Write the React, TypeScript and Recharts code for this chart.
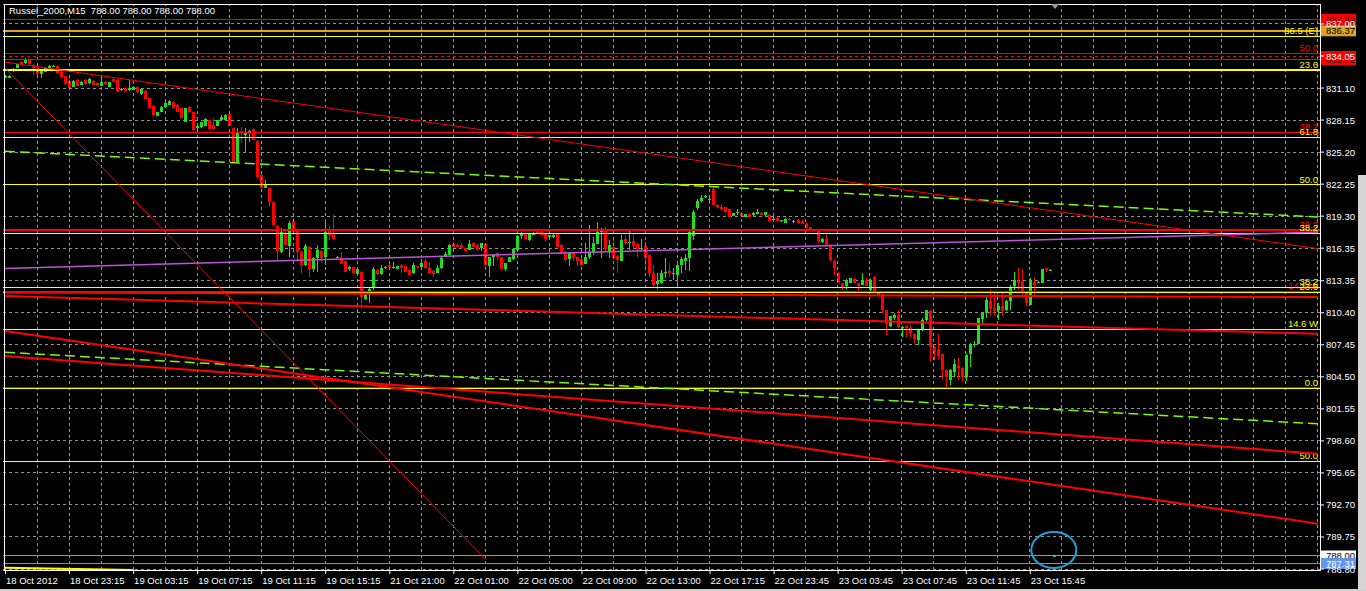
// Russel_2000 M15 — MT4-style candlestick chart with fib levels and trend lines.

import { ComposedChart, Bar, XAxis, YAxis, CartesianGrid, ReferenceLine, ReferenceDot } from "recharts";

type Ohlc = [number, number, number, number]; // open, high, low, close

const oct18: Ohlc[] = [
  [832.06, 832.30, 832.00, 832.25], [832.06, 832.28, 832.02, 832.22], [832.70, 832.90, 832.60, 832.85],
  [832.98, 833.35, 832.95, 833.29], [833.54, 833.60, 833.25, 833.29], [833.38, 833.90, 833.35, 833.78],
  [833.69, 833.75, 833.25, 833.29], [833.23, 833.30, 832.31, 832.92], [832.92, 833.00, 832.20, 832.37],
  [832.37, 832.80, 832.06, 832.77], [832.62, 833.00, 832.55, 832.98], [832.92, 833.20, 832.90, 833.14],
  [833.10, 833.23, 833.08, 833.15], [833.14, 833.20, 832.40, 832.46], [832.62, 832.65, 832.10, 832.15],
  [832.22, 832.25, 831.40, 831.45], [831.79, 831.85, 831.10, 831.14], [831.23, 831.85, 831.20, 831.79],
  [831.85, 831.90, 831.30, 831.33],
];

const oct19: Ohlc[] = [
  [831.39, 831.75, 831.35, 831.69], [831.85, 831.90, 831.40, 831.45], [831.54, 832.00, 831.50, 831.94],
  [831.76, 831.80, 831.35, 831.39], [831.60, 831.65, 831.30, 831.33], [831.33, 832.06, 831.30, 831.63],
  [831.69, 831.75, 831.40, 831.45], [831.23, 831.70, 831.20, 831.63], [831.94, 832.00, 831.65, 831.69],
  [831.85, 831.90, 830.70, 830.77], [830.90, 831.10, 830.85, 831.05], [831.08, 831.10, 830.80, 830.83],
  [830.90, 831.85, 830.85, 831.08], [830.93, 831.30, 830.90, 831.23], [831.23, 831.30, 830.65, 830.71],
  [830.59, 831.10, 830.50, 831.02], [830.83, 830.90, 830.00, 830.10], [830.16, 830.20, 829.20, 829.30],
  [829.45, 829.50, 828.55, 828.62], [828.56, 828.90, 828.50, 828.87], [828.87, 829.45, 828.85, 829.39],
  [829.39, 829.80, 829.35, 829.76], [829.55, 830.00, 829.50, 829.94], [829.85, 829.90, 829.20, 829.24],
  [829.55, 829.60, 828.90, 828.93], [829.24, 829.30, 828.30, 828.38], [828.01, 829.30, 827.95, 829.24],
  [829.39, 829.45, 828.80, 828.87], [828.87, 828.90, 827.20, 827.24], [827.46, 827.70, 827.15, 827.64],
  [827.49, 828.00, 827.45, 827.95], [827.64, 828.30, 827.60, 828.26], [828.16, 828.20, 827.30, 827.33],
  [827.70, 828.38, 827.30, 827.33], [827.64, 828.20, 827.60, 828.16], [828.16, 828.60, 828.10, 828.47],
  [828.16, 828.70, 828.10, 828.62], [828.72, 828.80, 827.60, 827.64], [827.40, 827.45, 824.20, 824.26],
  [824.26, 827.40, 824.20, 826.94], [827.15, 827.55, 826.02, 826.94], [826.78, 827.46, 825.25, 827.09],
  [827.10, 827.24, 826.11, 827.15], [827.33, 827.40, 826.30, 826.32], [826.23, 826.30, 822.90, 822.94],
  [823.10, 823.15, 821.87, 821.93], [821.87, 822.64, 821.85, 822.18], [821.87, 821.90, 820.18, 820.64],
  [820.64, 820.70, 818.45, 818.50], [818.40, 818.45, 815.27, 816.13], [816.04, 818.19, 815.95, 817.88],
  [817.73, 818.10, 816.60, 816.65], [816.56, 818.89, 815.58, 818.65], [818.80, 819.11, 817.58, 817.88],
  [818.03, 818.10, 815.12, 816.04], [816.04, 816.10, 814.04, 814.81], [814.81, 816.75, 814.75, 816.56],
  [816.50, 816.55, 813.68, 814.41], [814.41, 815.50, 814.20, 815.43], [815.43, 816.65, 814.20, 816.19],
  [816.13, 816.20, 814.97, 815.43], [815.58, 818.96, 814.81, 817.88], [818.03, 818.40, 817.11, 817.57],
  [817.73, 819.42, 817.10, 817.18], [815.50, 815.60, 815.45, 815.55], [815.43, 816.04, 814.85, 814.90],
  [815.18, 815.20, 814.15, 814.20], [814.41, 814.72, 814.29, 814.60], [814.60, 814.65, 814.05, 814.11],
  [813.98, 814.45, 813.95, 814.41], [814.20, 814.25, 810.91, 811.90], [811.68, 812.10, 811.60, 812.05],
  [812.45, 812.75, 811.34, 812.60], [812.66, 814.60, 812.51, 814.41], [814.35, 814.40, 813.90, 813.95],
  [813.95, 814.81, 813.90, 814.50], [814.50, 814.70, 814.45, 814.66],
];

const oct21: Ohlc[] = [
  [814.81, 814.85, 814.55, 814.60], [814.58, 815.12, 814.41, 814.62], [814.44, 814.75, 814.40, 814.72],
  [814.81, 814.85, 814.11, 814.57], [814.72, 814.75, 814.15, 814.20], [814.35, 814.40, 813.85, 813.89],
  [814.04, 814.97, 814.00, 814.81], [814.72, 814.75, 814.55, 814.60], [814.60, 815.33, 814.55, 814.97],
  [815.18, 815.33, 814.41, 814.50], [814.57, 815.12, 814.00, 814.04], [814.26, 814.30, 813.74, 813.95],
];

const oct22: Ohlc[] = [
  [814.11, 814.81, 814.05, 814.57], [814.50, 815.58, 814.45, 815.43], [815.52, 816.04, 815.50, 815.82],
  [815.73, 816.75, 815.70, 816.65], [816.75, 816.96, 816.45, 816.50], [816.65, 816.70, 816.45, 816.50],
  [816.65, 816.87, 816.30, 816.35], [816.35, 816.40, 816.05, 816.10], [816.19, 817.11, 816.15, 816.75],
  [816.87, 816.96, 816.45, 816.50], [816.65, 816.70, 816.10, 816.25], [816.35, 816.85, 816.13, 816.81],
  [816.75, 816.80, 814.75, 814.81], [814.72, 815.55, 813.68, 815.52], [815.52, 815.80, 814.72, 815.73],
  [815.89, 816.04, 815.27, 815.52], [815.52, 815.55, 814.35, 814.41], [814.41, 815.00, 814.29, 814.97],
  [815.12, 815.55, 815.10, 815.52], [815.36, 816.30, 815.30, 816.25], [816.19, 817.55, 816.15, 817.48],
  [817.48, 817.88, 817.18, 817.67], [817.67, 817.70, 817.15, 817.18], [817.11, 817.70, 817.05, 817.64],
  [817.57, 817.88, 817.55, 817.73], [817.88, 817.92, 817.70, 817.73], [817.88, 817.92, 817.55, 817.57],
  [817.64, 817.70, 816.96, 817.18], [817.36, 817.60, 817.33, 817.57], [817.36, 817.79, 817.33, 817.57],
  [817.67, 817.70, 816.45, 816.50], [816.65, 816.70, 815.73, 815.95], [816.04, 816.10, 815.12, 815.27],
  [815.36, 816.00, 814.72, 815.95], [815.95, 816.00, 815.18, 815.43], [815.52, 815.55, 814.72, 815.18],
  [815.36, 815.40, 814.75, 814.81], [814.90, 816.81, 814.85, 815.58], [815.58, 818.50, 815.33, 815.89],
  [816.04, 817.42, 815.73, 816.81], [816.75, 818.80, 816.70, 817.88], [817.82, 818.19, 815.43, 817.97],
  [818.03, 818.28, 816.04, 816.25], [816.13, 817.11, 815.43, 816.65], [816.50, 817.27, 815.27, 815.43],
  [815.64, 815.70, 814.11, 815.27], [815.21, 817.57, 815.15, 817.11], [817.18, 817.57, 816.75, 816.81],
  [816.81, 817.97, 816.19, 816.96], [817.05, 817.67, 816.13, 816.56], [816.75, 816.80, 815.58, 816.25],
  [816.33, 817.18, 816.13, 816.38], [816.56, 816.96, 814.66, 815.52], [815.73, 815.80, 813.65, 814.04],
  [814.04, 814.81, 812.75, 812.97], [813.06, 814.04, 812.57, 813.37], [813.12, 814.35, 813.06, 814.04],
  [814.04, 815.43, 813.58, 814.20], [814.29, 814.97, 813.74, 814.04], [814.02, 814.51, 813.43, 814.06],
  [813.89, 814.97, 812.82, 814.81], [814.81, 815.52, 814.11, 815.33], [815.18, 815.82, 814.35, 815.43],
  [815.49, 818.03, 814.29, 817.88], [817.48, 819.88, 817.11, 819.72], [820.03, 820.86, 819.88, 820.71],
  [820.74, 821.26, 820.64, 820.95], [821.08, 821.26, 820.95, 821.13], [820.84, 821.11, 820.49, 820.89],
  [821.78, 821.85, 820.30, 820.34], [820.34, 820.40, 820.03, 820.18], [820.18, 820.43, 819.82, 819.94],
  [820.12, 820.15, 819.63, 819.72], [819.97, 820.00, 819.20, 819.26], [819.36, 819.60, 819.33, 819.57],
  [819.57, 819.94, 819.42, 819.72], [819.63, 819.66, 819.28, 819.32], [819.26, 819.50, 819.23, 819.48],
  [819.51, 819.55, 819.23, 819.26], [819.39, 819.66, 819.36, 819.57], [819.51, 819.94, 819.48, 819.69],
  [819.63, 819.66, 819.42, 819.45], [819.39, 819.70, 819.36, 819.66], [819.45, 819.50, 818.85, 818.89],
  [818.99, 819.57, 818.74, 819.04],
];

const oct23: Ohlc[] = [
  [819.17, 819.20, 818.85, 818.89], [818.85, 818.95, 818.80, 818.90], [818.71, 819.10, 818.68, 819.05],
  [819.02, 819.11, 818.87, 818.90], [818.74, 818.90, 818.70, 818.87], [818.96, 819.00, 818.60, 818.65],
  [818.87, 818.90, 818.55, 818.59], [818.56, 818.80, 818.10, 818.34], [818.28, 818.30, 818.00, 818.04],
  [817.98, 818.15, 817.95, 818.10], [818.04, 818.08, 816.87, 817.05], [816.96, 817.27, 816.87, 817.18],
  [817.21, 817.58, 816.60, 816.66], [816.66, 816.70, 815.12, 815.27], [815.21, 815.25, 813.89, 814.51],
  [814.11, 814.15, 813.10, 813.13], [813.13, 813.17, 812.51, 812.82], [812.88, 813.47, 812.57, 813.43],
  [813.13, 813.63, 813.10, 813.59], [813.52, 813.56, 813.10, 813.13], [813.13, 813.17, 812.45, 812.88],
  [812.97, 814.05, 812.93, 813.34], [813.43, 813.59, 812.84, 812.88], [812.51, 813.47, 812.36, 813.43],
  [813.68, 813.80, 812.32, 812.36], [812.36, 812.40, 812.00, 812.05], [812.11, 812.15, 810.36, 810.67],
  [810.67, 810.70, 808.37, 809.38], [809.20, 810.15, 809.13, 810.12], [809.90, 810.36, 809.69, 810.21],
  [810.21, 810.67, 808.98, 809.13], [808.98, 809.17, 808.21, 809.13], [809.20, 809.24, 808.15, 808.98],
  [809.04, 809.29, 808.15, 808.52], [808.46, 808.50, 807.54, 807.97], [807.85, 808.87, 807.45, 808.83],
  [808.77, 809.90, 808.73, 809.75], [809.69, 810.70, 809.65, 810.67], [810.58, 810.62, 805.91, 807.29],
  [807.29, 807.33, 806.06, 806.83], [806.99, 808.46, 806.06, 806.43], [806.62, 806.66, 804.28, 805.14],
  [805.14, 805.18, 803.61, 804.47], [804.22, 805.18, 803.76, 805.14], [804.99, 806.13, 804.53, 805.70],
  [805.54, 806.22, 804.22, 805.30], [805.36, 805.40, 804.07, 804.47], [804.47, 806.56, 804.13, 806.52],
  [806.62, 807.66, 805.45, 807.54], [807.49, 807.84, 807.29, 807.54], [807.54, 809.95, 807.50, 809.90],
  [809.81, 810.51, 809.29, 810.36], [810.36, 811.90, 809.90, 811.59], [811.44, 812.51, 810.06, 810.73],
  [810.82, 812.20, 810.21, 810.61], [810.67, 811.28, 809.75, 810.98], [811.04, 812.36, 810.06, 810.61],
  [810.67, 811.59, 810.52, 811.44], [811.53, 812.97, 810.67, 812.76], [812.88, 814.20, 812.51, 813.43],
  [813.34, 814.51, 812.51, 813.13], [813.34, 814.41, 812.05, 812.36], [812.36, 812.40, 811.04, 811.28],
  [811.13, 813.59, 811.10, 813.34], [813.28, 813.68, 812.05, 812.97], [813.13, 813.37, 813.10, 813.28],
  [813.13, 814.45, 813.10, 814.41], [814.51, 814.55, 814.20, 814.35], [814.33, 814.40, 814.30, 814.37],
  [788.00, 788.00, 788.00, 788.00],
];

const timeLabels = [
  "18 Oct 2012", "18 Oct 23:15", "19 Oct 03:15", "19 Oct 07:15", "19 Oct 11:15", "19 Oct 15:15",
  "21 Oct 21:00", "22 Oct 01:00", "22 Oct 05:00", "22 Oct 09:00", "22 Oct 13:00", "22 Oct 17:15",
  "22 Oct 23:45", "23 Oct 03:45", "23 Oct 07:45", "23 Oct 11:45", "23 Oct 15:45",
];

const priceTicks = [
  786.8, 789.75, 792.7, 795.65, 798.6, 801.55, 804.5, 807.45, 810.4,
  813.35, 816.35, 819.3, 822.25, 825.2, 828.15, 831.1, 834.05, 837.0,
];

// horizontal objects (fibo levels, lines)
const redLevels = [
  { price: 837.42, text: "" },
  { price: 834.32, text: "50.0" },
  { price: 833.72, text: "" },
  { price: 827.05, text: "38.2" },
  { price: 812.4, text: "14.5 W" },
  { price: 803.53, text: "" },
];
const redDashedLevels = [{ price: 834.0, text: "" }];
const redThickLevels = [{ price: 818.02, text: "38.2" }];
const yellowLevels = [
  { price: 835.89, text: "86.5 (E)" },
  { price: 826.59, text: "61.8" },
  { price: 822.17, text: "50.0" },
  { price: 817.74, text: "38.2" },
  { price: 812.77, text: "38.2" },
  { price: 812.3, text: "23.6" },
  { price: 808.88, text: "14.6 W" },
  { price: 803.44, text: "0.0" },
  { price: 796.72, text: "50.0" },
];
const yellowThickLevels = [{ price: 832.76, text: "23.6" }];
const goldLevels = [{ price: 836.37, text: "" }];

// price tags on the right scale
const priceTags = [
  { price: 837.42, text: "837.42", kind: "red" },
  { price: 836.37, text: "836.37", kind: "gold" },
  { price: 834.0, text: "834.00", kind: "red" },
  { price: 833.72, text: "833.72", kind: "red" },
  { price: 788.0, text: "788.00", kind: "bid" },
  { price: 787.31, text: "787.31", kind: "ask" },
];

// trend lines: bar index / price at both ends
const redThinTrends = [
  { x1: 0, p1: 833.49, x2: 328, p2: 816.31 },
  { x1: 0, p1: 832.94, x2: 120, p2: 787.72 },
];
const redThickTrends = [
  { x1: 0, p1: 812.27, x2: 328, p2: 811.85 },
  { x1: 0, p1: 811.94, x2: 328, p2: 808.46 },
  { x1: 0, p1: 808.72, x2: 328, p2: 790.98 },
  { x1: 0, p1: 806.42, x2: 328, p2: 797.42 },
];
const greenDashedTrends = [
  { x1: 0, p1: 825.27, x2: 328, p2: 819.23 },
  { x1: 0, p1: 806.76, x2: 328, p2: 800.17 },
];
const purpleTrends = [{ x1: 0, p1: 814.48, x2: 328, p2: 817.83 }];
const yellowTrends = [{ x1: 0, p1: 786.92, x2: 32, p2: 786.71 }];

const circleMark = { x: 262, price: 788.55 };

const SLOTS = 329;
const Y_DOMAIN: [number, number] = [786.71, 838.84];
const FONT = "'Liberation Sans', Arial, sans-serif";
const RED = "#ff0000";
const GREEN = "#1fe01f";
const YELLOW = "#ffff00";
const GRID = "#8b939b";

const candles = [...oct18, ...oct19, ...oct21, ...oct22, ...oct23];
const rows = Array.from({ length: SLOTS }, (_, i) => {
  const k = candles[i];
  return k ? { i, range: [k[2], k[1]], o: k[0], h: k[1], l: k[2], c: k[3] } : { i, range: null };
});
const gridBars = Array.from({ length: Math.floor((SLOTS - 1) / 8) }, (_, k) => (k + 1) * 8);

function Candle(props: any) {
  const { x, y, width, height, payload } = props;
  if (!payload || payload.range == null) return null;
  const { o, h, l, c } = payload;
  const cx = Math.round(x + width / 2);
  const top = Math.min(y, y + height);
  const span = Math.abs(height);
  const toY = (v: number) => (h === l ? top : top + ((h - v) / (h - l)) * span);
  const color = c >= o ? GREEN : RED;
  const yo = toY(o);
  const yc = toY(c);
  const bodyTop = Math.min(yo, yc);
  const bodyH = Math.max(1, Math.abs(yo - yc));
  return (
    <g shapeRendering="crispEdges">
      <line x1={cx + 0.5} x2={cx + 0.5} y1={top} y2={top + Math.max(span, 1)} stroke={color} />
      <rect x={cx - 1} y={bodyTop} width={3} height={bodyH} fill={color} />
    </g>
  );
}

function levelLabel(text: string, color: string) {
  return (props: any) => {
    const vb = props.viewBox;
    if (!vb || !text) return null;
    return (
      <text x={vb.x + vb.width - 2} y={vb.y - 2} textAnchor="end" fill={color} fontSize={9.5} fontFamily={FONT}>
        {text}
      </text>
    );
  };
}

const tagColors: Record<string, [string, string]> = {
  red: [RED, "#000"],
  gold: ["#daa520", "#000"],
  bid: ["#ffffff", "#000"],
  ask: ["#6495ed", "#fff"],
};

function tagLabel(text: string, kind: string) {
  return (props: any) => {
    const vb = props.viewBox;
    if (!vb) return null;
    const [bg, fg] = tagColors[kind];
    const x0 = vb.x + vb.width + 1;
    return (
      <g>
        <rect x={x0} y={vb.y - 5.5} width={35} height={11} fill={bg} />
        <text x={x0 + 5} y={vb.y + 3.5} fill={fg} fontSize={9.5} fontFamily={FONT}>
          {text}
        </text>
      </g>
    );
  };
}

function PriceTick(props: any) {
  const { x, y, payload } = props;
  return (
    <text x={x} y={y + 3.5} fill="#fff" fontSize={9.5} fontFamily={FONT}>
      {Number(payload.value).toFixed(2)}
    </text>
  );
}

function TimeTick(props: any) {
  const { x, y, payload } = props;
  const label = timeLabels[payload.value / 16];
  if (!label) return null;
  return (
    <g>
      <line x1={x + 0.5} x2={x + 0.5} y1={y - 4} y2={y} stroke="#fff" />
      <text x={x + 1} y={y + 10} fill="#fff" fontSize={9.5} fontFamily={FONT}>
        {label}
      </text>
    </g>
  );
}

function hLines(levels: { price: number; text: string }[], color: string, width: number, dash?: string) {
  return levels.map((lv, k) => (
    <ReferenceLine
      key={`${color}-${width}-${k}`}
      y={lv.price}
      stroke={color}
      strokeWidth={width}
      strokeDasharray={dash}
      shapeRendering="crispEdges"
      label={levelLabel(lv.text, color)}
    />
  ));
}

function trendLines(list: { x1: number; p1: number; x2: number; p2: number }[], color: string, width: number, dash?: string) {
  return list.map((t, k) => (
    <ReferenceLine
      key={`t-${color}-${width}-${k}`}
      segment={[{ x: t.x1, y: t.p1 }, { x: t.x2, y: t.p2 }]}
      stroke={color}
      strokeWidth={width}
      strokeDasharray={dash}
      ifOverflow="visible"
    />
  ));
}

export default function App() {
  return (
    <div style={{ position: "absolute", left: 0, top: 0, width: 1366, height: 591, background: "#000", overflow: "hidden" }}>
      {/* price tags sit under the scale labels */}
      <div style={{ position: "absolute", left: 0, top: 0 }}>
        <ComposedChart width={1366} height={591} data={rows} margin={{ top: 4, right: 46, bottom: 21, left: 3 }}>
          <XAxis dataKey="i" hide />
          <YAxis hide domain={Y_DOMAIN} type="number" allowDataOverflow />
          {priceTags.map((t, k) => (
            <ReferenceLine key={`tag-${k}`} y={t.price} stroke="none" label={tagLabel(t.text, t.kind)} />
          ))}
        </ComposedChart>
      </div>
      <div style={{ position: "absolute", left: 0, top: 0 }}>
        <ComposedChart width={1366} height={591} data={rows} margin={{ top: 4, right: 0, bottom: 0, left: 3 }}>
          <CartesianGrid vertical={false} stroke={GRID} strokeDasharray="3 3" shapeRendering="crispEdges" />
          <XAxis
            dataKey="i"
            type="category"
            interval={15}
            height={21}
            tickSize={4}
            tickMargin={0}
            tickLine={false}
            axisLine={false}
            tick={<TimeTick />}
          />
          <YAxis
            orientation="right"
            type="number"
            domain={Y_DOMAIN}
            ticks={priceTicks}
            interval={0}
            width={46}
            tickSize={4}
            tickMargin={2}
            tickLine={{ stroke: "#fff" }}
            axisLine={false}
            allowDataOverflow
            tick={<PriceTick />}
          />
          {gridBars.map((b) => (
            <ReferenceLine key={`g-${b}`} x={b} stroke={GRID} strokeDasharray="3 3" shapeRendering="crispEdges" />
          ))}
          <Bar dataKey="range" isAnimationActive={false} shape={(p: any) => <Candle {...p} />} />
          {hLines(goldLevels, "#daa520", 2.5)}
          {hLines(redLevels, RED, 1)}
          {hLines(redDashedLevels, RED, 1, "3 3")}
          {hLines(redThickLevels, RED, 2)}
          {hLines(yellowLevels, YELLOW, 1)}
          {hLines(yellowThickLevels, YELLOW, 2)}
          <ReferenceLine y={788.0} stroke="#8a9aab" shapeRendering="crispEdges" />
          <ReferenceLine y={787.31} stroke="#6495ed" shapeRendering="crispEdges" />
          {trendLines(greenDashedTrends, "#7cfc00", 1.5, "10 5")}
          {trendLines(purpleTrends, "#ba55d3", 1.5)}
          {trendLines(redThinTrends, RED, 1)}
          {trendLines(redThickTrends, RED, 2)}
          {trendLines(yellowTrends, YELLOW, 2)}
          <ReferenceDot
            x={circleMark.x}
            y={circleMark.price}
            ifOverflow="visible"
            shape={(p: any) => (
              <ellipse cx={p.cx} cy={p.cy} rx={22.5} ry={18} fill="none" stroke="#1ea0dc" strokeWidth={2} />
            )}
          />
        </ComposedChart>
      </div>
      {/* plot frame */}
      <div
        style={{
          position: "absolute", left: 4, top: 4, width: 1317, height: 567,
          boxSizing: "border-box", border: "1px solid #fff", pointerEvents: "none",
        }}
      />
      <div
        style={{
          position: "absolute", left: 9, top: 5, color: "#fff", fontSize: 9.5,
          fontFamily: FONT, whiteSpace: "pre", lineHeight: "12px",
        }}
      >
        {"Russel_2000,M15  788.00 788.00 788.00 788.00"}
      </div>
      <div
        style={{
          position: "absolute", left: 1051, top: 4, width: 0, height: 0,
          borderLeft: "4px solid transparent", borderRight: "4px solid transparent", borderTop: "5px solid #9a9a9a",
        }}
      />
      <div style={{ position: "absolute", left: 1358, top: 175, width: 8, height: 416, background: "#d4d4d4" }} />
      <div style={{ position: "absolute", left: 0, top: 589, width: 1366, height: 2, background: "#d4d0c8" }} />
    </div>
  );
}
